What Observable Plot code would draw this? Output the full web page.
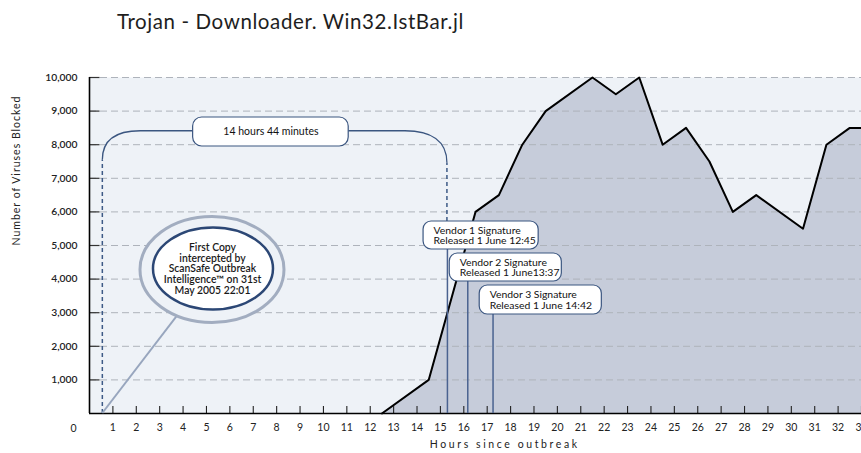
<!DOCTYPE html>
<html><head><meta charset="utf-8">
<script src="https://cdn.jsdelivr.net/npm/d3@7"></script>
<script src="https://cdn.jsdelivr.net/npm/@observablehq/plot@0.6"></script>
<style>
html,body{margin:0;padding:0;background:#fff;overflow:hidden;}
#title{position:relative;height:50px;font-family:Lato,sans-serif;}
#title span{position:absolute;left:117px;top:11px;font-size:20.5px;letter-spacing:0.6px;line-height:1;color:#1e1e1e;white-space:nowrap;}
</style></head><body>
<div id="title"><span>Trojan - Downloader. Win32.IstBar.jl</span></div>
<div id="chart"></div>
<script>
// ---- data ----
const hours   = [12.5, 14.5, 16.5, 17.5, 18.5, 19.5, 21.5, 22.5, 23.5, 24.5, 25.5, 26.5, 27.5, 28.5, 30.5, 31.5, 32.5, 33];
const blocked = [0, 1000, 6000, 6500, 8000, 9000, 10000, 9500, 10000, 8000, 8500, 7500, 6000, 6500, 5500, 8000, 8500, 8500];
const xTickHours = d3.range(1, 34);
const yTickValues = d3.range(1000, 10001, 1000);
const gridValues = d3.range(0, 10001, 1000);
const vendorHours = [15.3, 16.17, 17.25];
const vendorLabels = ["Vendor 1 Signature\nReleased 1 June 12:45", "Vendor 2 Signature\nReleased 1 June13:37", "Vendor 3 Signature\nReleased 1 June 14:42"];
const firstCopyHour = 0.57;
const durationLabel = "14 hours 44 minutes";
const firstCopyLabel = "First Copy\nintercepted by\nScanSafe Outbreak\nIntelligence\u2122 on 31st\nMay 2005 22:01";
const xLabel = "Hours since outbreak";
const yLabel = "Number of Viruses Blocked";
const originLabel = "0";

// ---- annotation anchors (data units) ----
const vendorBoxX1 = [14.28, 15.4, 16.68];
const vendorBoxX2 = [19.2, 20.19, 21.9];
const vendorBoxTop = [5714, 4762, 3810];
const vendorBoxBottom = [4881, 3929, 2946];
const durationBox = {x1: 4.43, x2: 11.08, top: 8810, bottom: 7946, bracket: 8400};
const circleAnchor = {hour: 5.3, value: 4300};

const series = hours.map((h, i) => ({hour: h, value: blocked[i]}));
const vendors = vendorHours.map((h, i) => ({hour: h, label: vendorLabels[i], x1: vendorBoxX1[i], x2: vendorBoxX2[i], top: vendorBoxTop[i], bottom: vendorBoxBottom[i]}));

const navy = "#3b5680";

function annotationLayer(index, {x, y}) {
  const g = d3.create("svg:g").attr("fill", "none");
  const L = x(firstCopyHour), R = x(vendorHours[0]), T = y(durationBox.bracket), B = y(0);
  g.append("path")
    .attr("d", `M${L},${B}V${T + 29}M${R},${y(vendorBoxTop[0])}V${T + 32}`)
    .attr("stroke", "#3d5a86").attr("stroke-width", 1.5).attr("stroke-dasharray", "4,3");
  const bx1 = x(durationBox.x1), bx2 = x(durationBox.x2);
  g.append("path")
    .attr("d", `M${L},${T + 29}C${L},${T + 9} ${L + 14},${T} ${L + 38},${T}H${bx1}M${bx2},${T}H${R - 42}C${R - 16},${T} ${R},${T + 10} ${R},${T + 32}`)
    .attr("stroke", navy).attr("stroke-width", 1.3);
  const cx = x(circleAnchor.hour), cy = y(circleAnchor.value);
  g.append("line").attr("x1", L).attr("y1", B).attr("x2", cx).attr("y2", cy)
    .attr("stroke", "#98a6be").attr("stroke-width", 2);
  g.append("ellipse").attr("cx", cx - 1).attr("cy", cy + 1).attr("rx", 72).attr("ry", 53)
    .attr("fill", "#eef2f7").attr("stroke", "#a2adc0").attr("stroke-width", 3);
  g.append("ellipse").attr("cx", cx).attr("cy", cy).attr("rx", 60).attr("ry", 41)
    .attr("fill", "#ffffff").attr("stroke", "#2c4775").attr("stroke-width", 2.5);
  return g.node();
}

const chart = Plot.plot({
  width: 861,
  height: 403,
  marginTop: 27,
  marginBottom: 40,
  marginLeft: 89,
  marginRight: 0,
  style: {fontFamily: "Lato, sans-serif", fontSize: "10px", background: "transparent", color: "#222"},
  x: {domain: [0, 33]},
  y: {domain: [0, 10000]},
  marks: [
    Plot.frame({fill: "#eef2f7", stroke: null}),
    Plot.areaY(series, {x: "hour", y: "value", fill: "#c6ccda"}),
    Plot.ruleY(gridValues, {stroke: "#aeb3bb", strokeWidth: 1, strokeDasharray: "7,4"}),
    Plot.line(series, {x: "hour", y: "value", stroke: "#000", strokeWidth: 2}),
    Plot.ruleY(yTickValues, {x1: 0, x2: 0.45, stroke: "#333", strokeWidth: 1.2}),
    Plot.ruleX(xTickHours, {y1: 0, y2: 210, stroke: "#222", strokeWidth: 1.1}),
    Plot.ruleX([0], {stroke: "#000", strokeWidth: 1.6}),
    Plot.ruleY([0], {stroke: "#000", strokeWidth: 1.6}),
    Plot.ruleX(vendors, {x: "hour", y1: 0, y2: "bottom", stroke: "#4a6290", strokeWidth: 1.5}),
    annotationLayer,
    Plot.rect([durationBox], {x1: "x1", x2: "x2", y1: "bottom", y2: "top", fill: "#fff", stroke: navy, strokeWidth: 1.2, rx: 9}),
    Plot.rect(vendors, {x1: "x1", x2: "x2", y1: "bottom", y2: "top", fill: "#fff", stroke: navy, strokeWidth: 1.2, rx: 8}),
    Plot.text([durationLabel], {x: (durationBox.x1 + durationBox.x2) / 2, y: (durationBox.top + durationBox.bottom) / 2, fontSize: 10.5, fill: "#111"}),
    Plot.text(vendors, {x: "x1", y: d => (d.top + d.bottom) / 2, text: "label", dx: 10, textAnchor: "start", lineAnchor: "middle", lineHeight: 1.05, fontSize: 10.4, fill: "#111"}),
    Plot.text([firstCopyLabel], {x: circleAnchor.hour, y: circleAnchor.value, dx: -1, dy: 0, lineAnchor: "middle", lineHeight: 1.02, fontSize: 10.4, fontWeight: 600, fill: "#1a1a1a"}),
    Plot.axisY({ticks: yTickValues, tickSize: 0, tickPadding: 12, tickFormat: d3.format(","), label: null, fontSize: 10.3, fontWeight: 600, fill: "#222"}),
    Plot.axisX({ticks: xTickHours, tickSize: 0, tickPadding: 10, label: null, fontSize: 10.5, fill: "#222"}),
    Plot.text([originLabel], {x: 0, y: 0, dx: -16, dy: 15, fontSize: 10.5, fill: "#222"}),
    Plot.text([xLabel], {x: 17.75, frameAnchor: "bottom", dy: 34, fontSize: 10.5, fill: "#222"}),
    Plot.text([yLabel], {frameAnchor: "left", dx: -73, rotate: -90, fontSize: 10.5, fill: "#222"})
  ]
});
d3.select(chart).selectAll("text").each(function() {
  const t = this.textContent;
  if (t === xLabel) this.setAttribute("letter-spacing", "2.6px");
  if (t === yLabel) this.setAttribute("letter-spacing", "1px");
});
document.getElementById("chart").appendChild(chart);
</script>
</body></html>
